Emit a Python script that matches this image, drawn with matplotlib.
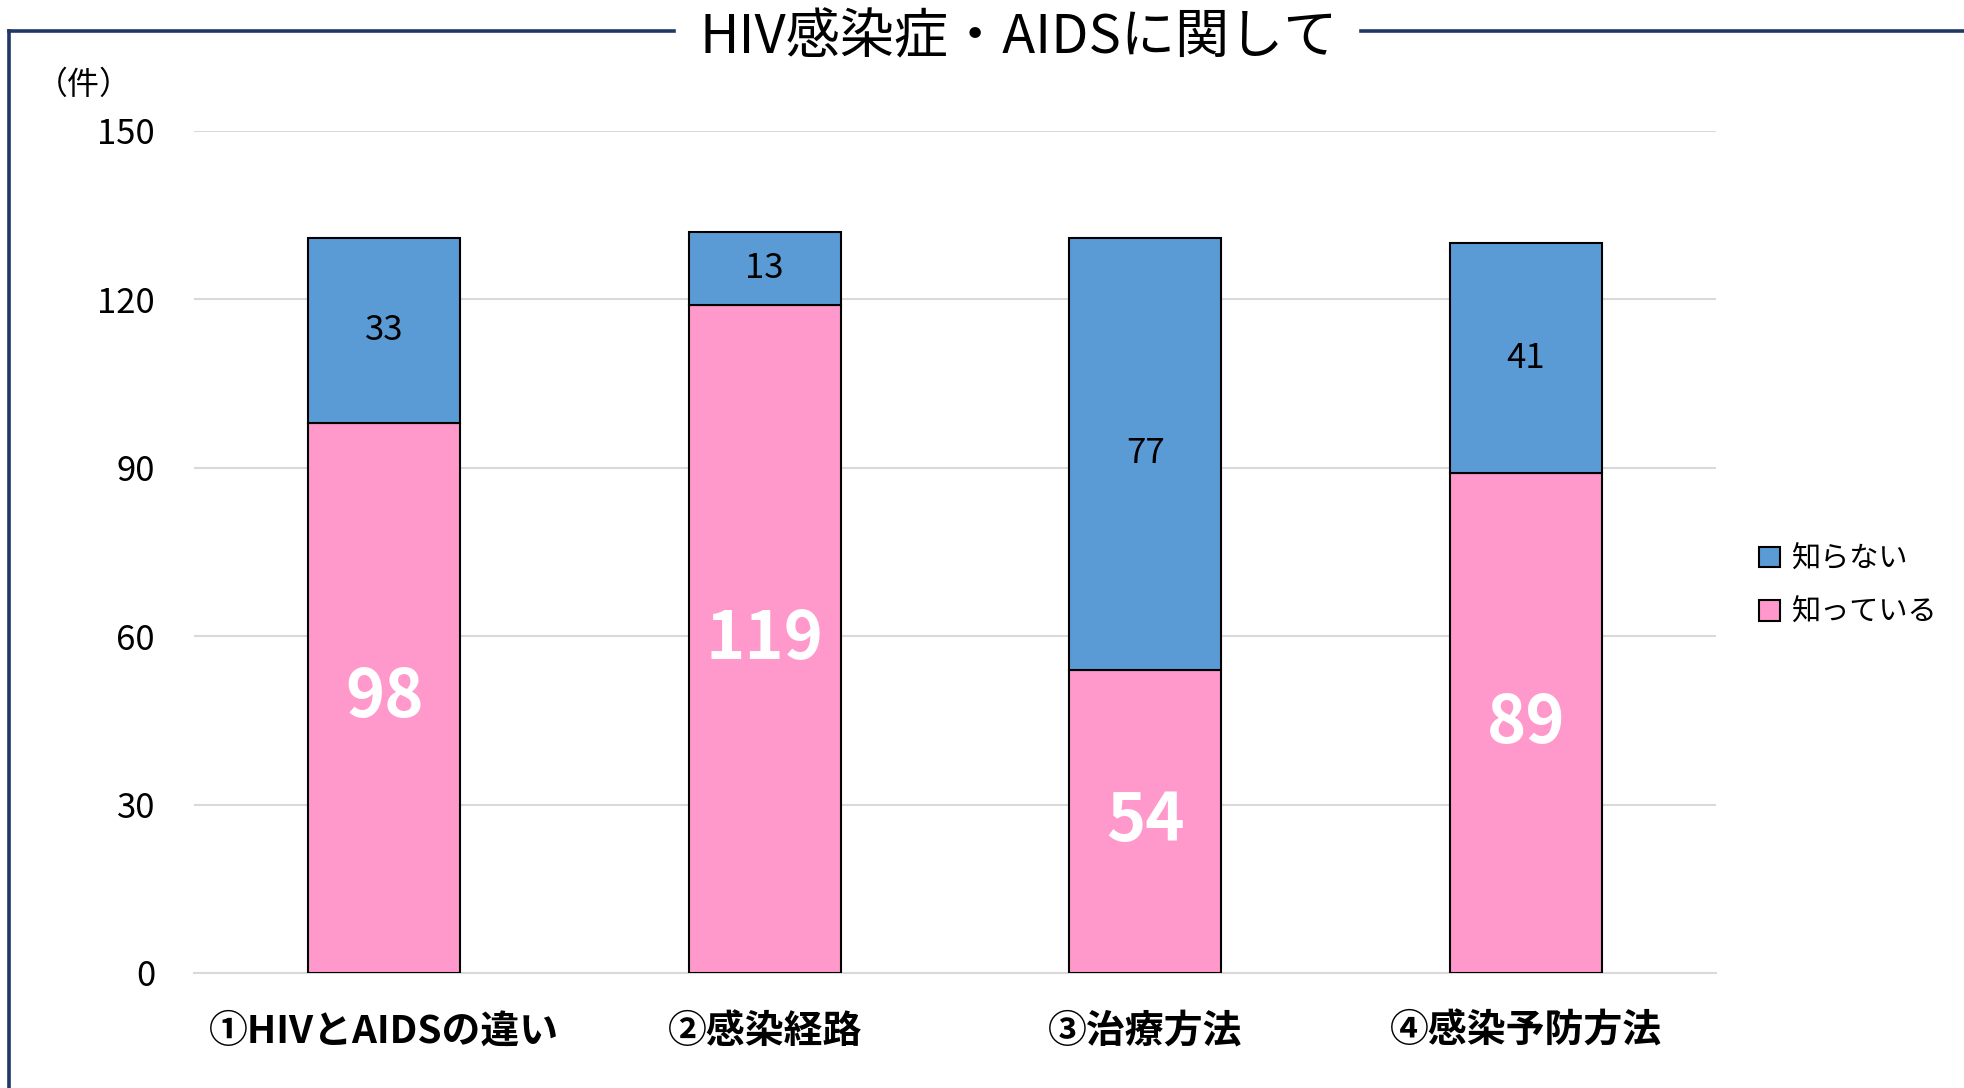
import matplotlib
matplotlib.use("Agg")
import matplotlib.pyplot as plt
from matplotlib.lines import Line2D
from matplotlib.patches import Patch

plt.rcParams['font.family'] = ['Noto Sans CJK JP', 'DejaVu Sans']

categories = ['①HIVとAIDSの違い', '②感染経路', '③治療方法', '④感染予防方法']
know = [98, 119, 54, 89]
dont_know = [33, 13, 77, 41]
series_names = ['知っている', '知らない']
yticks = [0, 30, 60, 90, 120, 150]
title = 'HIV感染症・AIDSに関して'
unit = '（件）'

pink = '#ff99cc'
blue = '#5b9bd5'
navy = '#1f3864'

W, H = 1964, 1088
fig = plt.figure(figsize=(W / 100, H / 100), dpi=100)
ax = fig.add_axes([194 / W, 1 - 973 / H, (1716 - 194) / W, (973 - 131) / H])

x = list(range(len(categories)))
ax.bar(x, know, width=0.4, color=pink, edgecolor='black', linewidth=1.5, zorder=3)
ax.bar(x, dont_know, width=0.4, bottom=know, color=blue, edgecolor='black', linewidth=1.5, zorder=3)

for xi, k, d in zip(x, know, dont_know):
    ax.text(xi, k / 2, str(k), ha='center', va='center', color='white',
            fontsize=48, fontweight='bold', zorder=4)
    ax.text(xi, k + d / 2, str(d), ha='center', va='center', color='black',
            fontsize=25, zorder=4)

ax.set_xlim(-0.5, 3.5)
ax.set_ylim(0, 150)
ax.set_yticks(yticks)
ax.set_yticklabels([str(v) for v in yticks], fontsize=25)
ax.set_xticks(x)
ax.set_xticklabels(categories, fontsize=28, fontweight='bold')
ax.tick_params(axis='y', length=0, pad=28)
ax.tick_params(axis='x', length=0, pad=28)
ax.grid(axis='y', color='#d9d9d9', linewidth=1.5, zorder=0)
for s in ['left', 'right', 'top']:
    ax.spines[s].set_visible(False)
ax.spines['bottom'].set_color('#d9d9d9')
ax.spines['bottom'].set_linewidth(1.5)

# legend
handles = [Patch(facecolor=blue, edgecolor='black', linewidth=1.5),
           Patch(facecolor=pink, edgecolor='black', linewidth=1.5)]
fig.legend(handles, [series_names[1], series_names[0]], loc='center left',
           bbox_to_anchor=(1733 / W, 1 - 586 / H), frameon=False, fontsize=21,
           handlelength=0.7, handleheight=0.7, handletextpad=0.4, labelspacing=0.8)

# unit label
fig.text(36 / W, 1 - 85 / H, unit, fontsize=23, ha='left', va='center')

# frame lines
ty = 1 - 31 / H
lx = 9 / W
fig.add_artist(Line2D([lx, 674 / W], [ty, ty], color=navy, linewidth=2.6, transform=fig.transFigure))
fig.add_artist(Line2D([1361 / W, 1.0], [ty, ty], color=navy, linewidth=2.6, transform=fig.transFigure))
fig.add_artist(Line2D([lx, lx], [0, ty], color=navy, linewidth=2.6, transform=fig.transFigure))

fig.text(1019 / W, 1 - 38 / H, title, fontsize=39, ha='center', va='center')

fig.savefig('out.png', dpi=100, facecolor='white')
